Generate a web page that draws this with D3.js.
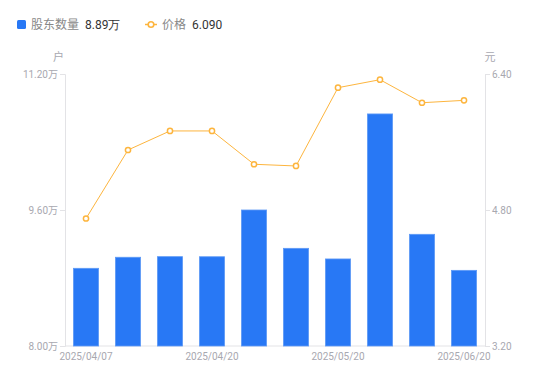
<!DOCTYPE html>
<html><head><meta charset="utf-8">
<script src="https://cdn.jsdelivr.net/npm/d3@7"></script>
<style>body{margin:0;background:#fff;font-family:"Noto Sans CJK SC","Noto Sans",sans-serif;}</style>
</head><body><svg id="c" width="550" height="381"></svg>
<script>
const categories = ["2025/04/07","2025/04/10","2025/04/18","2025/04/20","2025/04/30","2025/05/09","2025/05/20","2025/05/30","2025/06/10","2025/06/20"];
const holders = [8.914, 9.044, 9.051, 9.05, 9.60, 9.149, 9.024, 10.73, 9.314, 8.89];
const prices = [4.70, 5.506, 5.73, 5.73, 5.338, 5.318, 6.239, 6.333, 6.062, 6.09];
const leftTicks = [8.0, 9.6, 11.2];
const rightTicks = [3.2, 4.8, 6.4];
const xLabelShown = ["2025/04/07","2025/04/20","2025/05/20","2025/06/20"];

const svg = d3.select("#c");
const m = {l:65, r:485, t:74, b:346};
const x = d3.scaleBand().domain(categories).range([m.l, m.r]).paddingInner(0.4).paddingOuter(0.2);
const yL = d3.scaleLinear().domain([8.0, 11.2]).range([m.b, m.t]);
const yR = d3.scaleLinear().domain([3.2, 6.4]).range([m.b, m.t]);
const grey = "#a8a8b0", axisCol = "#e3e3e6";

// axes
const la = svg.append("g").attr("transform",`translate(${m.l},0)`)
  .call(d3.axisLeft(yL).tickValues(leftTicks).tickSize(5).tickPadding(2).tickFormat(d=>d3.format(".2f")(d)+"万"));
const ra = svg.append("g").attr("transform",`translate(${m.r},0)`)
  .call(d3.axisRight(yR).tickValues(rightTicks).tickSize(5).tickPadding(2).tickFormat(d3.format(".2f")));
const xa = svg.append("g").attr("transform",`translate(0,${m.b})`)
  .call(d3.axisBottom(x).tickValues(xLabelShown).tickSize(0).tickPadding(7));
[la,ra,xa].forEach(g=>{
  g.selectAll(".domain").attr("stroke",axisCol);
  g.selectAll(".tick line").attr("stroke",axisCol);
  g.selectAll("text").attr("fill",grey).style("font-size","10px").style("font-family","Roboto,'Noto Sans CJK SC',sans-serif");
});
xa.select(".domain").attr("d",`M${m.l},0H${m.r}`);

// bars
svg.append("g").selectAll("rect").data(categories).join("rect")
  .attr("x",d=>x(d)).attr("width",x.bandwidth())
  .attr("y",(d,i)=>yL(holders[i])).attr("height",(d,i)=>m.b-yL(holders[i]))
  .attr("fill","#2878f5").attr("stroke","#5f9af6").attr("stroke-width",0.8);

// line
const lineCol = "#fdb53e";
const pts = categories.map((c,i)=>[x(c)+x.bandwidth()/2, yR(prices[i])]);
svg.append("path").attr("d",d3.line()(pts)).attr("fill","none").attr("stroke",lineCol).attr("stroke-width",1);
svg.append("g").selectAll("circle").data(pts).join("circle")
  .attr("cx",d=>d[0]).attr("cy",d=>d[1]).attr("r",2.6)
  .attr("fill","#fff").attr("stroke",lineCol).attr("stroke-width",1.5);

// unit labels
svg.append("text").attr("x",58.5).attr("y",61).attr("text-anchor","middle").attr("fill",grey).style("font-size","11px").text("户");
svg.append("text").attr("x",490).attr("y",61).attr("text-anchor","middle").attr("fill",grey).style("font-size","11px").text("元");

// legend
const lg = svg.append("g");
lg.append("rect").attr("x",17).attr("y",20).attr("width",9).attr("height",9).attr("rx",1.5).attr("fill","#2878f5");
lg.append("text").attr("x",31).attr("y",29).attr("fill","#888").style("font-size","12px").text("股东数量");
lg.append("text").attr("x",85).attr("y",29).attr("fill","#333").style("font-size","12px").style("font-family","Roboto,sans-serif").text(d3.format(".2f")(holders[holders.length-1])+"万");
lg.append("line").attr("x1",145).attr("x2",157).attr("y1",24.5).attr("y2",24.5).attr("stroke",lineCol).attr("stroke-width",1.5);
lg.append("circle").attr("cx",151).attr("cy",24.5).attr("r",2.8).attr("fill","#fff").attr("stroke",lineCol).attr("stroke-width",1.6);
lg.append("text").attr("x",162).attr("y",29).attr("fill","#888").style("font-size","12px").text("价格");
lg.append("text").attr("x",192).attr("y",29).attr("fill","#333").style("font-size","12px").style("font-family","Roboto,sans-serif").text(d3.format(".3f")(prices[prices.length-1]));
</script></body></html>
